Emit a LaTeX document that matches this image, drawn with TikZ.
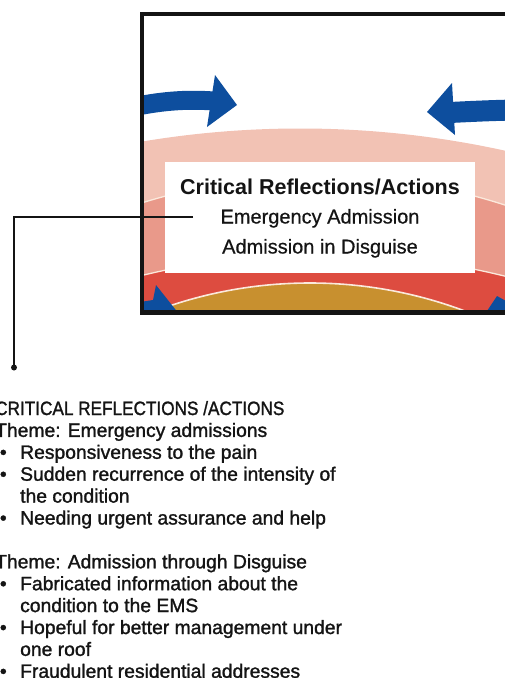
\documentclass[tikz,border=0pt]{standalone}
\usepackage{graphicx}
\usepackage{fontspec}
\setmainfont{Liberation Sans}
\newfontfamily\listfont[FakeBold=1.4]{Liberation Sans}
\newfontfamily\panelfont[FakeBold=0.6]{Liberation Sans}
\definecolor{ink}{HTML}{141414}
\definecolor{band1}{HTML}{F2C2B4}
\definecolor{band2}{HTML}{E9998A}
\definecolor{band3}{HTML}{DD4C40}
\definecolor{core}{HTML}{C8902F}
\definecolor{flow}{HTML}{0D4E9E}
\definecolor{seam}{HTML}{FBE9DC}
\tikzset{
  listline/.style={anchor=base west, inner sep=0pt, text=ink,
    font=\listfont\fontsize{19.3}{22}\selectfont},
  dotmark/.style={anchor=base, inner sep=0pt, text=ink,
    font=\listfont\fontsize{19.3}{22}\selectfont},
  boxtitle/.style={anchor=base, inner sep=0pt, text=ink,
    font=\fontsize{21.5}{24}\selectfont\bfseries},
  boxline/.style={anchor=base, inner sep=0pt, text=ink,
    font=\panelfont\fontsize{20}{24}\selectfont},
  arrowband/.style={draw=flow, line width=19pt},
  arrowhead/.style={fill=flow},
  ring/.style={draw=seam, line width=1.3pt}
}
\begin{document}
\begin{tikzpicture}[x=1pt, y=-1pt]
\useasboundingbox (0,0) rectangle (504,678);

% layered rings inside the frame
\begin{scope}
  \clip (143,15) rectangle (520,311);
  \fill[band1] (300,1078.5) circle (950pt);
  \filldraw[ring, fill=band2] (320,776) circle (600pt);
  \filldraw[ring, fill=band3] (322,1014) circle (760pt);
  \filldraw[ring, fill=core, line width=1.6pt] (310,723) circle (440pt);
  % circulating arrows
  \draw[arrowband] (128,108) .. controls (160,101) and (185,99) .. (214,101);
  \fill[arrowhead] (215,75) -- (237,105) -- (207,127) -- cycle;
  \draw[arrowband, line width=21pt] (450,112.5) .. controls (470,111.5) and (490,110.5) .. (515,110);
  \fill[arrowhead] (452,83) -- (427,112) -- (455,135) -- cycle;
  \fill[arrowhead] (140,302) -- (153,300) -- (156,285) -- (179,314) -- (140,314) -- cycle;
  \fill[arrowhead] (485,314) -- (497,296) -- (515,306) -- (515,314) -- cycle;
\end{scope}

% label panel
\node[fill=white, inner sep=0pt, minimum width=310pt, minimum height=111pt,
      anchor=north west] (crbox) at (165,162) {};
\node[boxtitle] (crtitle) at (320,194) {Critical Reflections/Actions};
\node[boxline] (crem) at (320,223.5) {Emergency Admission};
\node[boxline] (crdis) at (320,253.5) {Admission in Disguise};

% frame
\draw[ink, line width=4.4pt, line join=miter] (530,14) -- (142,14) -- (142,312.5) -- (530,312.5);

% leader line to the list
\coordinate (tap) at (193,217);
\node[circle, fill=ink, inner sep=0pt, minimum size=6pt] (dot) at (14,367.5) {};
\draw[ink, line width=1.3pt] (tap) -| (dot.center);

% list of themes
\node[listline] (l1) at (-5,415) {\scalebox{0.89}[1]{CRITICAL REFLECTIONS /ACTIONS}};
\node[listline] (l2) at (-5,436.9) {Theme: Emergency admissions};
\node[dotmark] at (3.3,458.8) {•};
\node[listline] (l3) at (20,458.8) {Responsiveness to the pain};
\node[dotmark] at (3.3,480.7) {•};
\node[listline] (l4) at (20,480.7) {Sudden recurrence of the intensity of};
\node[listline] (l5) at (20,502.6) {the condition};
\node[dotmark] at (3.3,524.5) {•};
\node[listline] (l6) at (20,524.5) {Needing urgent assurance and help};
\node[listline] (l7) at (-5,568.3) {Theme: Admission through Disguise};
\node[dotmark] at (3.3,590.2) {•};
\node[listline] (l8) at (20,590.2) {Fabricated information about the};
\node[listline] (l9) at (20,612.1) {condition to the EMS};
\node[dotmark] at (3.3,634) {•};
\node[listline] (l10) at (20,634) {Hopeful for better management under};
\node[listline] (l11) at (20,655.9) {one roof};
\node[dotmark] at (3.3,677.8) {•};
\node[listline] (l12) at (20,677.8) {Fraudulent residential addresses};
\end{tikzpicture}
\end{document}
